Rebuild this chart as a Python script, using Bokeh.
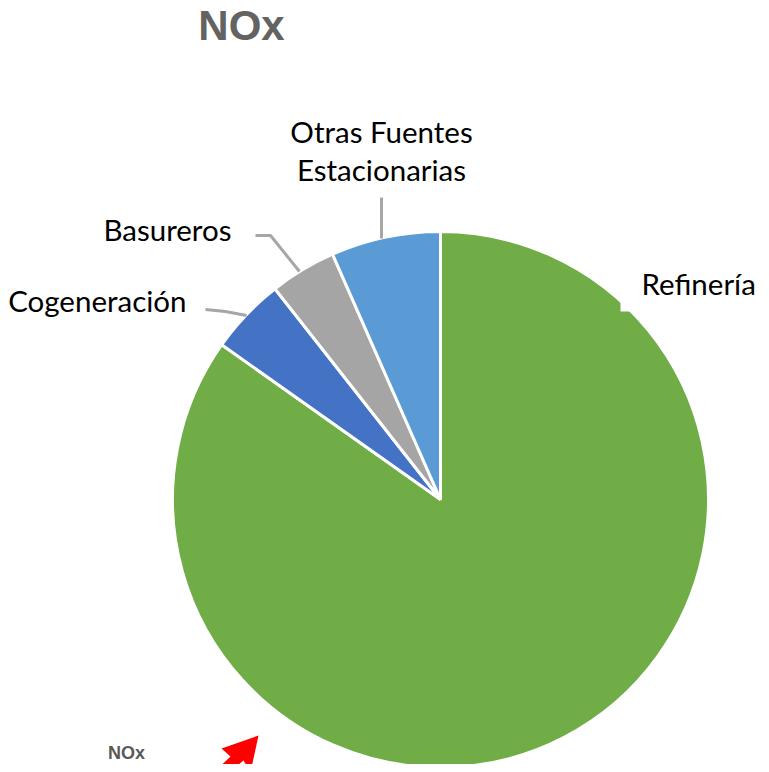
import numpy as np
from bokeh.plotting import figure
from bokeh.models import Range1d
from bokeh.embed import file_html
from bokeh.resources import INLINE
from bokeh.core.properties import value

categories = ["Refinería", "Cogeneración", "Basureros", "Otras Fuentes Estacionarias"]
shares = [84.8, 4.6, 4.0, 6.6]
colors = ["#70AD47", "#4472C4", "#A5A5A5", "#5B9BD5"]
title_text = "NOx"

W, H = 761, 764
p = figure(width=W, height=H, output_backend="svg", toolbar_location=None,
           x_range=Range1d(0, W), y_range=Range1d(772 - H, 772),
           min_border=0)
p.axis.visible = False
p.grid.visible = False
p.outline_line_color = None
p.background_fill_color = "white"

def Y(sy):
    return 772 - sy

cx, cy, r = 440, Y(499), 268
vals = np.array(shares, dtype=float)
frac = vals / vals.sum()
cum = np.concatenate([[0], np.cumsum(frac)])
start = np.pi / 2 - 2 * np.pi * cum[:-1]
end = np.pi / 2 - 2 * np.pi * cum[1:]

p.wedge(x=[cx] * 4, y=[cy] * 4, radius=r, start_angle=list(end), end_angle=list(start),
        fill_color=colors, line_color="white", line_width=3)

# label background patch covering pie edge near Refinería
p.quad(left=[620], right=[760], top=[Y(255)], bottom=[Y(311)], fill_color="white", line_color=None)

# leader lines
lc = "#A6A6A6"
p.line([381, 381], [Y(197), Y(238)], line_color=lc, line_width=3)
p.line([255, 270, 299], [Y(235), Y(235), Y(271)], line_color=lc, line_width=3)
p.line([205, 225, 246], [Y(309), Y(311), Y(315)], line_color=lc, line_width=3)

font = value("Lato")
fs = "29.5px"
p.text(x=[381, 381], y=[Y(131), Y(169)], text=["Otras Fuentes", "Estacionarias"],
       text_align="center", text_baseline="middle", text_font=font,
       text_font_size=fs, text_color="#000000")
p.text(x=[231], y=[Y(229)], text=[categories[2]], text_align="right", text_baseline="middle",
       text_font=font, text_font_size=fs, text_color="#000000")
p.text(x=[186], y=[Y(300)], text=[categories[1]], text_align="right", text_baseline="middle",
       text_font=font, text_font_size=fs, text_color="#000000")
p.text(x=[641], y=[Y(283)], text=[categories[0]], text_align="left", text_baseline="middle",
       text_font=font, text_font_size=fs, text_color="#000000")

# title
p.text(x=[241], y=[Y(25)], text=[title_text], text_align="center", text_baseline="middle",
       text_font=value("Liberation Sans"), text_font_style="bold", text_font_size="42px",
       text_color="#636363")
# small caption
p.text(x=[126], y=[Y(752)], text=[title_text], text_align="center", text_baseline="middle",
       text_font=value("Liberation Sans"), text_font_style="bold", text_font_size="18px",
       text_color="#595959")

# red arrow
ax = [258, 250, 243, 225, 210, 230, 221]
ay = [735, 772, 760, 775, 775, 756, 748]
p.patch(x=ax, y=[Y(v) for v in ay], fill_color="#FF0000", line_color=None)

open("out.html", "w").write(file_html(p, INLINE))
